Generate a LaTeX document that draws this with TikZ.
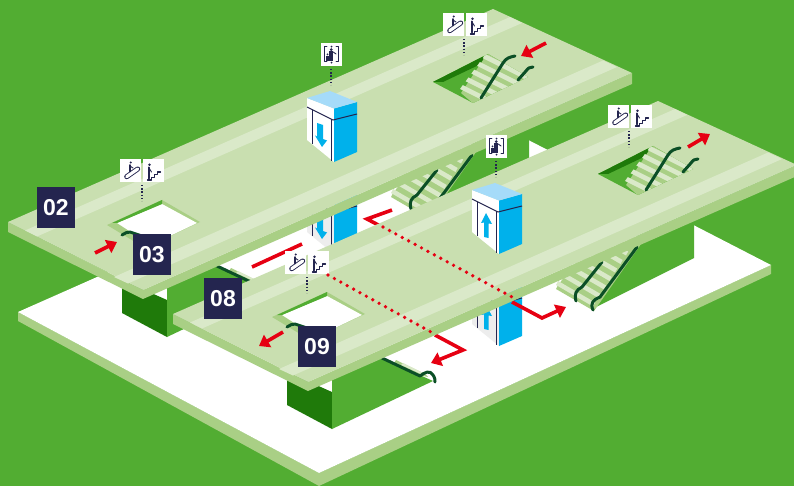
\documentclass[tikz,border=0pt]{standalone}
\usepackage{fontspec}
\setmainfont{Liberation Sans}
\usetikzlibrary{arrows.meta}
\definecolor{SiteGreen}{HTML}{52AD32}
\definecolor{SlabTop}{HTML}{C9DFB0}
\definecolor{SlabBand}{HTML}{DAE9C9}
\definecolor{SlabSide}{HTML}{A9CF85}
\definecolor{CoreDark}{HTML}{1F7A0A}
\definecolor{RailDark}{HTML}{0B4F26}
\definecolor{LiftBlue}{HTML}{00B1EB}
\definecolor{LiftSky}{HTML}{A5DBF9}
\definecolor{LiftGrey}{HTML}{EDEDED}
\definecolor{TagNavy}{HTML}{24254F}
\definecolor{RouteRed}{HTML}{E60012}

\tikzset{
  railline/.style={draw=RailDark,line width=3pt,line cap=round,line join=round},
  routeline/.style={draw=RouteRed,line width=3.6pt,line join=miter},
  routetip/.style={routeline,-{Triangle[length=10pt,width=14pt]}},
  routedots/.style={draw=RouteRed,line width=3.7pt,line cap=round,dash pattern=on 0pt off 7.3pt},
  signdots/.style={draw=TagNavy,line width=1.4pt,dash pattern=on 1.4pt off 1.8pt},
  iconline/.style={draw=TagNavy,line width=0.9pt,line cap=round,line join=round},
  tagbox/.style={fill=TagNavy,text=white,minimum width=38pt,minimum height=41pt,inner sep=0pt,
    font=\fontsize{23}{23}\selectfont\bfseries},
  pics/escicon/.style={code={
    \fill[white] (0,0) rectangle (21,23);
    \draw[TagNavy,line width=5pt,line cap=round] (6.7,17.7) -- (17.7,10);
    \draw[white,line width=3.2pt,line cap=round] (6.7,17.7) -- (17.7,10);
    \draw[iconline,line width=1.5pt] (10,12.5) -- (10,6);
    \draw[iconline] (10,7) -- (13,9);
    \fill[TagNavy] (10.7,3.5) circle (1.2);
  }},
  pics/stairicon/.style={code={
    \fill[white] (0,0) rectangle (21,23);
    \draw[iconline,line width=1.1pt] (5,21) -- (9,21) -- (9,18.5) -- (12,18.5) -- (12,15.5)
      -- (15,15.5) -- (15,13) -- (18,13);
    \draw[iconline,line width=2pt] (6.3,19.5) -- (6.3,8.5);
    \draw[iconline] (6.5,9) -- (9,13);
    \fill[TagNavy] (7,5.8) circle (1.4);
  }},
  pics/lifticon/.style={code={
    \fill[white] (0,0) rectangle (21,23);
    \draw[iconline] (6,3.7) -- (3.3,3.7) -- (3.3,18.7) -- (6,18.7);
    \draw[iconline] (15,3.7) -- (17.5,3.7) -- (17.5,18.7) -- (15,18.7);
    \fill[TagNavy] (8.3,8.5) rectangle (12.3,17.7);
    \fill[TagNavy] (5.3,13) rectangle (7.8,17.7);
    \fill[TagNavy] (10.3,6.6) circle (1.5);
    \fill[TagNavy] (6.5,11.4) circle (1);
    \draw[iconline] (12.3,9) -- (15,11);
    \fill[TagNavy] (10.5,3.6) circle (1);
    \fill[TagNavy] (10.5,19.6) circle (1);
  }},
  pics/liftbox/.style={code={
    \fill[#1] (307,98) -- (334,108.5) -- (334,162) -- (307,140) -- cycle;
    \fill[LiftBlue] (334,108.5) -- (357,102) -- (357,152) -- (334,162) -- cycle;
    \fill[LiftSky] (307,98) -- (330,91) -- (357,102) -- (334,108.5) -- cycle;
    \draw[TagNavy,line width=1pt] (307,107) -- (333,120) -- (357,114);
    \draw[TagNavy,line width=1pt] (312,110) -- (312,144);
    \draw[TagNavy,line width=1pt] (331,119) -- (331,161);
  }},
  pics/liftdown/.style={code={
    \fill[LiftBlue] (317,123) -- (323,125) -- (323,139) -- (327,140.5) -- (322,147)
      -- (315,135.5) -- (317,136.5) -- cycle;
  }},
  pics/liftup/.style={code={
    \fill[LiftBlue] (321,121) -- (327,132) -- (323.5,131.5) -- (323.5,146) -- (319,145) -- (319,130.5)
      -- (316,131) -- cycle;
  }},
  pics/coreblock/.style={code={
    % core faces under the slab
    \fill[CoreDark] (122,280) -- (167,300) -- (167,337) -- (122,313) -- cycle;
    \fill[SiteGreen] (167,337) -- (268,289) -- (217,266) -- (167,280) -- cycle;
    \fill[SlabSide] (231,268) -- (260,282) -- (263,285) -- (254,283) -- (229,271) -- cycle;
    \fill[SlabBand] (238,271) -- (258,281) -- (256,282) -- (236,273) -- cycle;
    \draw[railline] (217,266) -- (255,284) .. controls (260,280) and (265,278) .. (268,283)
      .. controls (270,286) and (270,288) .. (270,290);
    % far core wall and its stair
    \fill[SiteGreen] (429,216) -- (529,166) -- (529,108) -- (477,108) -- cycle;
    \fill[SlabSide] (393,193) -- (391,197) -- (429,219) -- (476,152) -- (450,122) -- cycle;
    \begin{scope}
      \clip (385,193) -- (429,219) -- (476,152) -- (450,110) -- cycle;
      \foreach \i in {0,...,8}{
        \fill[SlabBand] ({391+5.5*\i},{193-8.5*\i}) -- ({428+5.5*\i},{214.5-8.5*\i})
          -- ({430.2+5.5*\i},{210.5-8.5*\i}) -- ({393.2+5.5*\i},{189-8.5*\i}) -- cycle;
      }
    \end{scope}
    \draw[railline] (428,218) .. controls (425,211) and (428,208) .. (435,205) -- (472,155);
    \draw[railline] (411,209) .. controls (409,202) and (411,198) .. (417,195) -- (437,170);
  }},
  pics/floorslab/.style={code={
    \fill[SlabSide] (8,222) -- (8,232) -- (143,299) -- (632,84) -- (632,73) -- (143,290) -- cycle;
    \fill[SlabTop] (8,222) -- (493,9) -- (632,73) -- (143,290) -- cycle;
    \fill[SlabBand] (25,230.5) -- (37,236.5) -- (522,23) -- (510,17) -- cycle;
    \fill[SlabBand] (114,277) -- (128,283.5) -- (617,67) -- (603,60.5) -- cycle;
    % open well with the sign over it
    \fill[SlabSide] (107,225) -- (162,200) -- (200,222) -- (145,248) -- cycle;
    \fill[white] (117,223) -- (162,204) -- (197,223) -- (151,245) -- cycle;
    \fill[SiteGreen] (112,223) -- (162,200) -- (162,204) -- (117,223) -- cycle;
    \draw[railline] (122,235) .. controls (125,233) and (127,232) .. (130,232) -- (142,236);
    % stair well
    \fill[SiteGreen] (433,82) -- (488,54) -- (528,77) -- (473,103) -- cycle;
    \fill[CoreDark] (433,82) -- (483,56.5) -- (483,63) -- (443,82) -- cycle;
    \begin{scope}
      \clip (433,82) -- (488,54) -- (528,77) -- (473,103) -- cycle;
      \fill[SlabSide] (461,93) -- (485,57) -- (490,52) -- (532,76) -- (476,106) -- cycle;
      \foreach \i in {0,...,4}{
        \fill[SlabBand] ({460+5.7*\i},{89-7.7*\i}) -- ({506+5.7*\i},{112-7.7*\i})
          -- ({508.8+5.7*\i},{108.1-7.7*\i}) -- ({462.8+5.7*\i},{85.1-7.7*\i}) -- cycle;
      }
    \end{scope}
    \draw[railline] (481,98) -- (503,63) .. controls (506,58) and (510,57) .. (515,56);
    \draw[railline] (518,80) -- (526,71) .. controls (528,68) and (530,67) .. (533,67);
    % signs
    \pic at (120,159) {escicon};
    \pic at (142.5,159) {stairicon};
    \draw[signdots] (142,185) -- (142,201);
    \pic at (443,13) {escicon};
    \pic at (465.5,13) {stairicon};
    \draw[signdots] (464,39) -- (464,55);
    \pic at (321,43) {lifticon};
    \draw[signdots] (331,69) -- (331,85);
  }},
}

\begin{document}
\begin{tikzpicture}[x=1pt,y=-1pt]
    \useasboundingbox (0,0) rectangle (794,486);
    \fill[SiteGreen] (0,0) rectangle (794,486);
    \fill[SlabSide] (18,312) -- (18,321) -- (319,486) -- (771,274) -- (771,265) -- (319,473) -- cycle;
    \fill[white] (18,312) -- (472,111) -- (771,265) -- (319,473) -- cycle;

    \pic at (0,0) {coreblock};
    \pic at (0,92) {liftbox=LiftGrey};
    \pic at (0,92) {liftdown};
    \pic at (0,0) {floorslab};
    \pic at (0,0) {liftbox=white};
    \pic at (0,0) {liftdown};

    \pic at (165,92) {coreblock};
    \pic at (165,184) {liftbox=LiftGrey};
    \pic at (165,184) {liftup};

    \coordinate (upa) at (252,267);
    \coordinate (upb) at (302,244);
    \coordinate (upc) at (392,210);
    \coordinate (upd) at (367,219);
    \coordinate (upe) at (384,228);
    \coordinate (exita) at (512,302);
    \coordinate (exitb) at (542,318);
    \coordinate (exitc) at (566,307);
    \coordinate (lowa) at (435,335);
    \coordinate (lowb) at (463,350);
    \coordinate (lowc) at (431,363);
    \draw[routeline] (upa) -- (upb);
    \draw[routeline] (upc) -- (upd) -- (upe);
    \draw[routetip] (exita) -- (exitb) -- (exitc);
    \draw[routetip] (lowa) -- (lowb) -- (lowc);

    \pic at (165,92) {floorslab};
    \pic at (165,92) {liftbox=white};
    \pic at (165,92) {liftup};

    \coordinate (dota) at (383,227);
    \coordinate (dotb) at (512,297);
    \coordinate (dotc) at (328,275);
    \coordinate (dotd) at (431,332);
    \draw[routedots] (dota) -- (dotb);
    \draw[routedots] (dotc) -- (dotd);

    \coordinate (arra) at (95,253);
    \coordinate (arrb) at (117,242);
    \coordinate (arrc) at (546,43);
    \coordinate (arrd) at (521,56);
    \coordinate (arre) at (688,147);
    \coordinate (arrf) at (710,134);
    \coordinate (arrg) at (283,332);
    \coordinate (arrh) at (259,346);
    \draw[routetip] (arra) -- (arrb);
    \draw[routetip] (arrc) -- (arrd);
    \draw[routetip] (arre) -- (arrf);
    \draw[routetip] (arrg) -- (arrh);

    \node[tagbox] (tagb) at (56,207.5) {02};
    \node[tagbox] (tagc) at (152,254.5) {03};
    \node[tagbox] (tagh) at (223,298.5) {08};
    \node[tagbox] (tagi) at (317,346.5) {09};
\end{tikzpicture}
\end{document}
